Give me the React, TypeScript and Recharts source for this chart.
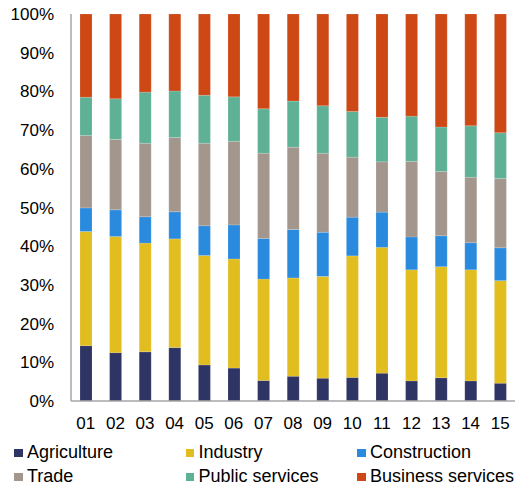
import React from "react";
import { BarChart, Bar, XAxis, YAxis, Legend } from "recharts";

const categories = ["01", "02", "03", "04", "05", "06", "07", "08", "09", "10", "11", "12", "13", "14", "15"];
const agriculture = [14.3, 12.5, 12.7, 13.8, 9.3, 8.5, 5.3, 6.4, 5.9, 6.1, 7.2, 5.2, 6.0, 5.2, 4.6];
const industry = [29.5, 30.0, 28.1, 28.1, 28.3, 28.2, 26.2, 25.4, 26.3, 31.4, 32.5, 28.7, 28.7, 28.7, 26.5];
const construction = [6.1, 6.9, 6.8, 7.0, 7.7, 8.8, 10.5, 12.5, 11.4, 10.0, 9.1, 8.5, 8.0, 7.0, 8.5];
const trade = [18.7, 18.2, 19.0, 19.2, 21.3, 21.6, 22.0, 21.3, 20.4, 15.5, 13.0, 19.5, 16.6, 16.9, 17.9];
const publicServices = [9.9, 10.5, 13.2, 12.0, 12.4, 11.5, 11.5, 11.9, 12.3, 11.8, 11.5, 11.7, 11.5, 13.3, 11.8];
const businessServices = [21.5, 21.9, 20.2, 19.9, 21.0, 21.4, 24.5, 22.5, 23.7, 25.2, 26.7, 26.4, 29.2, 28.9, 30.7];
const yTicks = [0, 10, 20, 30, 40, 50, 60, 70, 80, 90, 100];

const seriesNames = ["Agriculture", "Industry", "Construction", "Trade", "Public services", "Business services"];
const seriesValues = [agriculture, industry, construction, trade, publicServices, businessServices];
const seriesColors = ["#2e3464", "#e2bd1f", "#2a8ade", "#a3968d", "#5fb195", "#cd4815"];
const seriesKeys = ["agri", "ind", "cons", "trade", "pub", "bus"];

const data = categories.map((c, i) => {
  const row: Record<string, string | number> = { cat: c };
  seriesKeys.forEach((k, j) => {
    row[k] = seriesValues[j][i];
  });
  return row;
});

const FONT = "'Liberation Sans', Arial, sans-serif";

const legendOrder = [0, 1, 2, 3, 4, 5];

const renderLegend = () => (
  <div style={{ position: "relative", width: 516, height: 55, fontFamily: FONT }}>
    {legendOrder.map((idx, n) => {
      const col = n % 3;
      const row = Math.floor(n / 3);
      const left = 14 + col * 171.5;
      const top = 11.5 + row * 24;
      return (
        <div key={seriesKeys[idx]} style={{ position: "absolute", left, top, height: 18 }}>
          <div
            style={{
              position: "absolute",
              left: 0,
              top: 6.2,
              width: 8.5,
              height: 8.5,
              background: seriesColors[idx],
            }}
          />
          <span
            style={{
              position: "absolute",
              left: 13,
              top: 0,
              fontSize: 18,
              lineHeight: "18px",
              whiteSpace: "nowrap",
              color: "#000",
            }}
          >
            {seriesNames[idx]}
          </span>
        </div>
      );
    })}
  </div>
);

export default function App() {
  return (
    <div style={{ position: "absolute", left: 0, top: 0, background: "#fff" }}>
      <BarChart
        width={516}
        height={486}
        data={data}
        margin={{ top: 14, right: 1, left: 0, bottom: 0 }}
        barSize={12}
      >
        <XAxis
          dataKey="cat"
          height={30}
          tickLine={false}
          tickSize={0}
          tickMargin={16}
          axisLine={{ stroke: "#a6a6a6", strokeWidth: 1.5 }}
          tick={{ fill: "#000", fontSize: 17, fontFamily: FONT }}
          interval={0}
        />
        <YAxis
          width={71}
          domain={[0, 100]}
          ticks={yTicks}
          tickFormatter={(v: number) => `${v}%`}
          tickLine={false}
          tickSize={0}
          tickMargin={17}
          axisLine={{ stroke: "#a6a6a6", strokeWidth: 1.5 }}
          tick={{ fill: "#000", fontSize: 17, fontFamily: FONT }}
          allowDataOverflow
        />
        <Legend verticalAlign="bottom" height={55} content={renderLegend} />
        {seriesKeys.map((k, j) => (
          <Bar
            key={k}
            dataKey={k}
            name={seriesNames[j]}
            stackId="a"
            fill={seriesColors[j]}
            stroke="#ffffff"
            strokeOpacity={0.25}
            strokeWidth={0.6}
            isAnimationActive={false}
          />
        ))}
      </BarChart>
    </div>
  );
}
